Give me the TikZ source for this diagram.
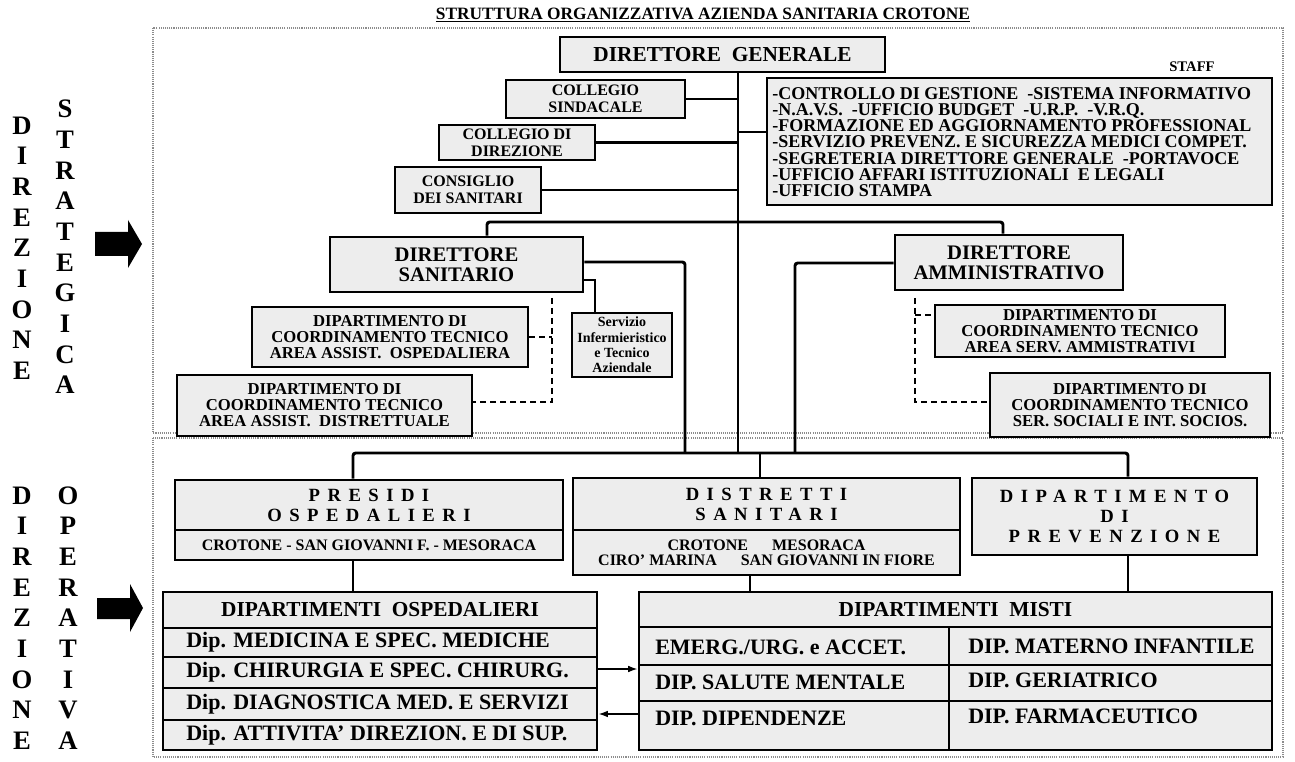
\documentclass[tikz,border=0pt]{standalone}
\usepackage{fontspec}
\setmainfont{Liberation Serif}
\usetikzlibrary{arrows.meta}
\newcommand\fsz[2]{\fontsize{#1}{#2}\selectfont}
% #1 style, #2 name, #3 x1, #4 y1, #5 x2, #6 y2, #7 text
\newcommand\bx[7]{\node[box,#1,minimum width={(#5-#3)*0.75pt},minimum height={(#6-#4)*0.75pt}] (#2) at ({(#3+#5)/2},{(#4+#6)/2}) {#7};}
\begin{document}
\begin{tikzpicture}[x=0.75pt,y=-0.75pt,
  box/.style={draw, line width=2.2pt, fill=black!7, inner sep=0pt, align=center},
  conn/.style={line width=2.2pt, rounded corners=2pt},
  thinc/.style={line width=1.3pt},
  dashc/.style={line width=1.2pt, dash pattern=on 4.5pt off 3pt},
  frame/.style={draw=black!45, line width=1.6pt, dash pattern=on 0.8pt off 0.8pt},
  arr/.style={line width=1.1pt, -{Latex[length=7pt,width=5pt]}},
  lab/.style={inner sep=0pt, align=center},
  vlab/.style={lab, font=\bfseries\fsz{20}{23}},
  fcoll/.style={font=\bfseries\fsz{12}{13}},
  fdir/.style={font=\bfseries\fsz{15.5}{15}},
  fdep/.style={font=\bfseries\fsz{12.5}{12}},
  fspace/.style={font=\bfseries\fsz{14}{15}\addfontfeature{LetterSpace=40}},
  ftown/.style={font=\bfseries\fsz{12}{11.5}},
  fhead/.style={font=\bfseries\fsz{16}{16}},
  plain/.style={},
  rowtxt/.style={lab, anchor=west, font=\bfseries\fsz{16.5}{16}}
]
\useasboundingbox (0,0) rectangle (1295,762);
\fill[white] (0,0) rectangle (1295,762);

% frames
\draw[frame] (153,28) rectangle (1283,433);
\draw[frame] (153,438) rectangle (1283,757);

% title
\node[lab, font=\bfseries\fsz{13}{13}] (title) at (703,15) {\underline{STRUTTURA ORGANIZZATIVA AZIENDA SANITARIA CROTONE}};

% side labels
\node[vlab] (ls1) at (22,248) {D\\I\\R\\E\\Z\\I\\O\\N\\E};
\node[vlab] (ls2) at (65,247) {S\\T\\R\\A\\T\\E\\G\\I\\C\\A};
\node[vlab] (lo1) at (22,618) {D\\I\\R\\E\\Z\\I\\O\\N\\E};
\node[vlab] (lo2) at (68,618) {O\\P\\E\\R\\A\\T\\I\\V\\A};

% block arrows
\fill (95,232) -- (128,232) -- (128,220) -- (142,244) -- (128,268) -- (128,256) -- (95,256) -- cycle;
\fill (97,598) -- (130,598) -- (130,584) -- (143,608) -- (130,632) -- (130,619) -- (97,619) -- cycle;

% strategic part
\bx{fhead}{dg}{560}{37}{885}{72}{DIRETTORE\ \ GENERALE}
\bx{fcoll}{cs}{506}{80}{685}{118}{COLLEGIO\\SINDACALE}
\bx{fcoll}{cd}{439}{125}{595}{160}{COLLEGIO DI\\DIREZIONE}
\bx{fcoll}{cn}{395}{167}{541}{213}{CONSIGLIO\\DEI SANITARI}
\node[lab, font=\bfseries\fsz{11}{11}] (stafflab) at (1192,67) {STAFF};
\bx{plain}{staff}{767}{78}{1272}{205}{}
\node[lab, anchor=north west, align=left, font=\bfseries\fsz{13.5}{12.2}] (stafftxt) at (772,87) {%
-CONTROLLO DI GESTIONE\ \ -SISTEMA INFORMATIVO\\
-N.A.V.S.\ \ -UFFICIO BUDGET\ \ -U.R.P.\ \ -V.R.Q.\\
-FORMAZIONE ED AGGIORNAMENTO PROFESSIONAL\\
-SERVIZIO PREVENZ. E SICUREZZA MEDICI COMPET.\\
-SEGRETERIA DIRETTORE GENERALE\ \ -PORTAVOCE\\
-UFFICIO AFFARI ISTITUZIONALI\ \ E LEGALI\\
-UFFICIO STAMPA};

\bx{fdir}{ds}{330}{237}{583}{292}{DIRETTORE\\SANITARIO}
\bx{fdir}{da}{895}{235}{1123}{290}{DIRETTORE\\AMMINISTRATIVO}
\bx{font=\bfseries\fsz{10.5}{11.5}}{serv}{572}{313}{672}{377}{Servizio\\Infermieristico\\e Tecnico\\Aziendale}
\bx{fdep}{d1}{252}{307}{528}{367}{DIPARTIMENTO DI\\COORDINAMENTO TECNICO\\AREA ASSIST.\ \ OSPEDALIERA}
\bx{fdep}{d2}{177}{375}{472}{436}{DIPARTIMENTO DI\\COORDINAMENTO TECNICO\\AREA ASSIST.\ \ DISTRETTUALE}
\bx{fdep}{d3}{935}{305}{1225}{357}{DIPARTIMENTO DI\\COORDINAMENTO TECNICO\\AREA SERV. AMMISTRATIVI}
\bx{fdep}{d4}{990}{373}{1270}{437}{DIPARTIMENTO DI\\COORDINAMENTO TECNICO\\SER. SOCIALI E INT. SOCIOS.}

% operative part
\bx{fspace}{prA}{175}{480}{563}{530}{PRESIDI\\OSPEDALIERI}
\bx{ftown}{prB}{175}{530}{563}{560}{CROTONE - SAN GIOVANNI F. - MESORACA}
\bx{fspace}{dtA}{573}{478}{960}{530}{DISTRETTI\\SANITARI}
\bx{ftown}{dtB}{573}{530}{960}{575}{CROTONE\hspace{18pt}MESORACA\\CIRO’ MARINA\hspace{18pt}SAN GIOVANNI IN FIORE}
\bx{fspace}{pv}{972}{478}{1257}{555}{DIPARTIMENTO\\DI\\PREVENZIONE}

\bx{fhead}{oh}{163}{592}{597}{628}{DIPARTIMENTI\ \ OSPEDALIERI}
\bx{plain}{o1}{163}{628}{597}{657}{}
\bx{plain}{o2}{163}{657}{597}{688}{}
\bx{plain}{o3}{163}{688}{597}{720}{}
\bx{plain}{o4}{163}{720}{597}{750}{}
\node[rowtxt] (o1t) at (186,642) {Dip. MEDICINA E SPEC. MEDICHE};
\node[rowtxt] (o2t) at (186,672) {Dip. CHIRURGIA E SPEC. CHIRURG.};
\node[rowtxt] (o3t) at (186,704) {Dip. DIAGNOSTICA MED. E SERVIZI};
\node[rowtxt] (o4t) at (186,735) {Dip. ATTIVITA’ DIREZION. E DI SUP.};

\bx{fhead}{mh}{639}{592}{1272}{627}{DIPARTIMENTI\ \ MISTI}
\bx{plain}{m11}{639}{627}{949}{665}{}
\bx{plain}{m21}{639}{665}{949}{701}{}
\bx{plain}{m31}{639}{701}{949}{750}{}
\bx{plain}{m12}{949}{627}{1272}{665}{}
\bx{plain}{m22}{949}{665}{1272}{701}{}
\bx{plain}{m32}{949}{701}{1272}{750}{}
\node[rowtxt] (m11t) at (655,647) {EMERG./URG. e ACCET.};
\node[rowtxt] (m21t) at (655,682) {DIP. SALUTE MENTALE};
\node[rowtxt] (m31t) at (655,718) {DIP. DIPENDENZE};
\node[rowtxt] (m12t) at (968,646) {DIP. MATERNO INFANTILE};
\node[rowtxt] (m22t) at (968,680) {DIP. GERIATRICO};
\node[rowtxt] (m32t) at (968,716) {DIP. FARMACEUTICO};

% connectors
\coordinate (tk) at (738,453);
\coordinate (hbl) at (353,453);
\coordinate (hbr) at (1128,453);
\coordinate (dj) at (760,453);
\coordinate (sj) at (738,132);
\coordinate (hl) at (487,222);
\coordinate (hr) at (1003,222);
\coordinate (sj2) at (685,262);
\coordinate (sv) at (595,280);
\coordinate (dv1) at (552,298);
\coordinate (dv2) at (552,402);
\coordinate (av1) at (915,298);
\coordinate (av2) at (915,402);
\coordinate (av3) at (915,315);
\coordinate (aj) at (795,263);
\coordinate (mj) at (750,580);
\coordinate (ya1) at (600,669);
\coordinate (ya2) at (600,714);

\draw[conn] (dg.south -| tk) -- (tk);
\draw[conn] (cs.east) -- (cs.east -| tk);
\draw[conn] (cd.east) -- (cd.east -| tk);
\draw[conn] (cn.east) -- (cn.east -| tk);
\draw[conn] (sj) -- (sj -| staff.west);
\draw[conn] (hl |- ds.north) -- (hl) -- (hr) -- (hr |- da.north);
\draw[conn] (sj2 -| ds.east) -- (sj2) -- (sj2 |- tk);
\draw[thinc] (sv -| ds.east) -- (sv) -- (sv |- serv.north);
\draw[dashc] (dv1) -- (dv2) -- (dv2 -| d2.east);
\draw[dashc] (d1.east) -- (d1.east -| dv1);
\draw[dashc] (av1) -- (av2) -- (av2 -| d4.west);
\draw[dashc] (av3) -- (av3 -| d3.west);
\draw[conn] (aj -| da.west) -- (aj) -- (aj |- tk);
\draw[conn] (hbl |- prA.north) -- (hbl) -- (hbr) -- (hbr |- pv.north);
\draw[conn] (dj) -- (dj |- dtA.north);
\draw[conn] (hbl |- prB.south) -- (hbl |- oh.north);
\draw[conn] (mj |- dtB.south) -- (mj |- mh.north);
\draw[conn] (hbr |- pv.south) -- (hbr |- mh.north);
\draw[arr] (ya1 -| o2.east) -- (ya1 -| m21.west);
\draw[arr] (ya2 -| m31.west) -- (ya2 -| o3.east);
\end{tikzpicture}
\end{document}
